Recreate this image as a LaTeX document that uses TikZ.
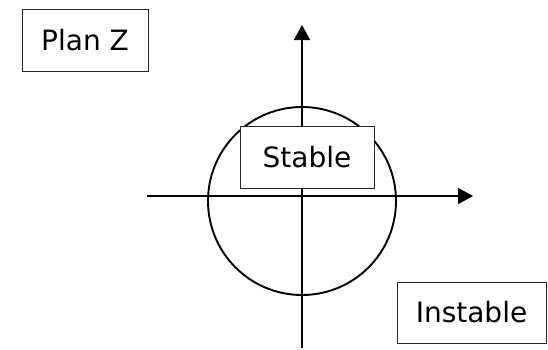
\documentclass[tikz,border=0pt]{standalone}
\usepackage{fontspec}
\setmainfont{DejaVu Sans}
\usetikzlibrary{arrows.meta,positioning}
\tikzset{
  labelbox/.style={rectangle, draw=black!85, line width=1pt, fill=white,
                   inner sep=0pt, align=center, font=\fontsize{28}{32}\selectfont},
  axis/.style={-{Triangle[length=15pt,width=16pt]}, line width=1.9pt},
  ring/.style={line width=1.9pt},
}
\begin{document}
\begin{tikzpicture}[x=1pt, y=-1pt]
\useasboundingbox (0,0) rectangle (548,349);

% ---- axes and circle ----
\coordinate (xstart) at (147,196);
\coordinate (xend) at (473,196);
\coordinate (ystart) at (302,348);
\coordinate (yend) at (302,25);
\coordinate (origin) at (302,201);
\draw[ring] (origin) circle[radius=94];
\draw[axis] (xstart) -- (xend);
\draw[axis] (ystart) -- (yend);

% ---- labels ----
\node[labelbox, minimum width=126pt, minimum height=62pt] (planz) at (85,40) {Plan Z};
\node[labelbox, minimum width=134pt, minimum height=62pt] (stable) at (307,157) {Stable};
\node[labelbox, minimum width=149pt, minimum height=61pt] (instable) at (471.5,312.5) {Instable};
\end{tikzpicture}
\end{document}
